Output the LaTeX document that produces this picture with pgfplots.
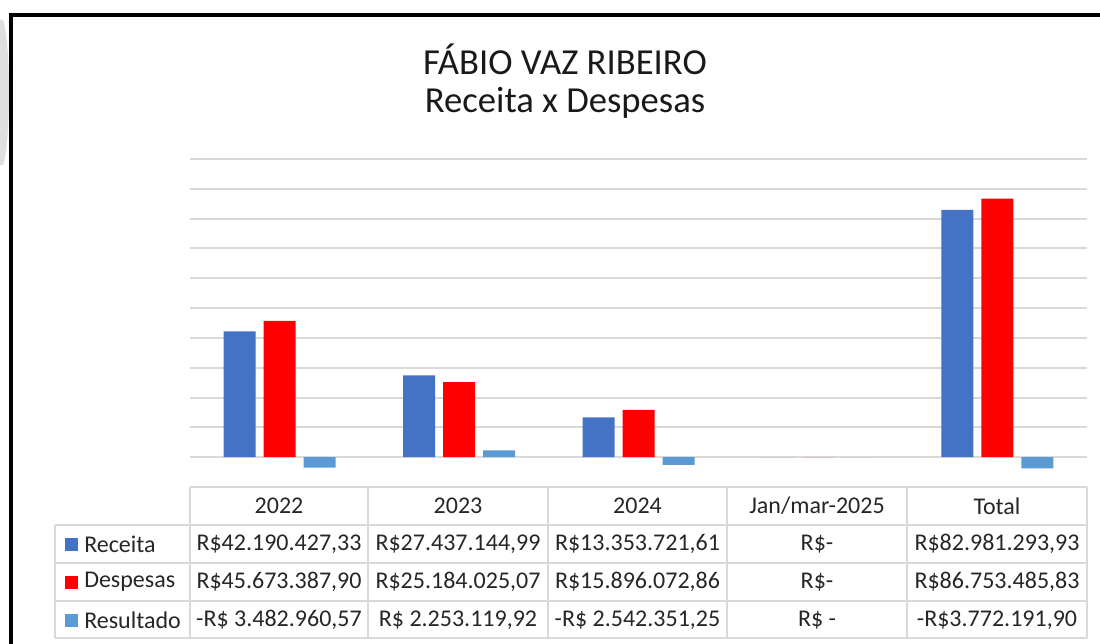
\documentclass[border=0pt]{standalone}
\usepackage{pgfplots}
\pgfplotsset{compat=1.18}
\usepackage{fontspec}
\setmainfont{Carlito}
\definecolor{rec}{HTML}{4472C4}
\definecolor{desp}{HTML}{FF0000}
\definecolor{res}{HTML}{5B9BD5}
\definecolor{gridc}{HTML}{D9D9D9}
\definecolor{txt}{HTML}{262626}
\begin{document}
\begin{tikzpicture}
\begin{axis}[
  at={(142.5pt,-365.25pt)}, anchor=south west,
  scale only axis, width=672.75pt, height=246pt,
  xmin=-0.5, xmax=4.5, ymin=-10, ymax=100,
  xtick=\empty, ytick={0,10,...,100}, yticklabels=\empty,
  ymajorgrids, major grid style={draw=gridc, line width=1.5pt},
  axis line style={draw=none}, major tick length=0pt,
  ybar, bar width=24pt,
  clip=false,
]
\addplot[fill=rec, draw=none, bar shift=-30pt] coordinates {(0,42.190427) (1,27.437145) (2,13.353722) (3,0) (4,82.981294)};
\addplot[fill=desp, draw=none, bar shift=0pt] coordinates {(0,45.673388) (1,25.184025) (2,15.896073) (3,0) (4,86.753486)};
\addplot[fill=res, draw=none, bar shift=30pt] coordinates {(0,-3.482961) (1,2.253120) (2,-2.542351) (3,0) (4,-3.772192)};
\end{axis}
\begin{scope}[x=0.75pt,y=-0.75pt]
  % left grey shape
  \fill[gray!25] (0,20) -- (3,20) .. controls (11,40) and (11,145) .. (3,165) -- (0,165) -- cycle;
  % frame
  \draw[black, line width=2.4pt] (11,1000) -- (11,15) -- (1200,15);
  % title
  \node[font=\fontsize{27.5}{32}\selectfont, text=black!90] at (565,59) {FÁBIO VAZ RIBEIRO};
  \node[font=\fontsize{27.5}{32}\selectfont, text=black!90] at (565,103) {Receita x Despesas};
  % table lines
  \begin{scope}[draw=gridc, line width=1.5pt]
    \draw (190,487) -- (1087,487);
    \foreach \yy in {525,563,601,638} \draw (55,\yy) -- (1087,\yy);
    \draw (55,525) -- (55,638);
    \foreach \xx in {190,368,548,727,907,1087} \draw (\xx,487) -- (\xx,638);
  \end{scope}
  \begin{scope}[font=\fontsize{18}{21}\selectfont, text=txt]
    % header
    \node at (279,506) {2022};
    \node at (458,506) {2023};
    \node at (637.5,506) {2024};
    \node at (817,506) {Jan/mar-2025};
    \node at (997,506) {Total};
    % legend col
    \fill[rec] (65,537.5) rectangle (78,550.5);
    \fill[desp] (65,575.5) rectangle (78,588.5);
    \fill[res] (65,613.5) rectangle (78,626.5);
    \node[anchor=west, inner sep=0pt] at (84,544) {Receita};
    \node[anchor=west, inner sep=0pt] at (84,582) {Despesas};
    \node[anchor=west, inner sep=0pt] at (84,620) {Resultado};
    % Receita
    \node at (279,544) {R\$42.190.427,33};
    \node at (458,544) {R\$27.437.144,99};
    \node at (637.5,544) {R\$13.353.721,61};
    \node at (817,544) {R\$-};
    \node at (997,544) {R\$82.981.293,93};
    % Despesas
    \node at (279,582) {R\$45.673.387,90};
    \node at (458,582) {R\$25.184.025,07};
    \node at (637.5,582) {R\$15.896.072,86};
    \node at (817,582) {R\$-};
    \node at (997,582) {R\$86.753.485,83};
    % Resultado
    \node at (279,620) {-R\$ 3.482.960,57};
    \node at (458,620) {R\$ 2.253.119,92};
    \node at (637.5,620) {-R\$ 2.542.351,25};
    \node at (817,620) {R\$ -};
    \node at (997,620) {-R\$3.772.191,90};
  \end{scope}
  \pgfresetboundingbox
  \path[use as bounding box] (0,0) rectangle (1100,643);
\end{scope}
\end{tikzpicture}
\end{document}
